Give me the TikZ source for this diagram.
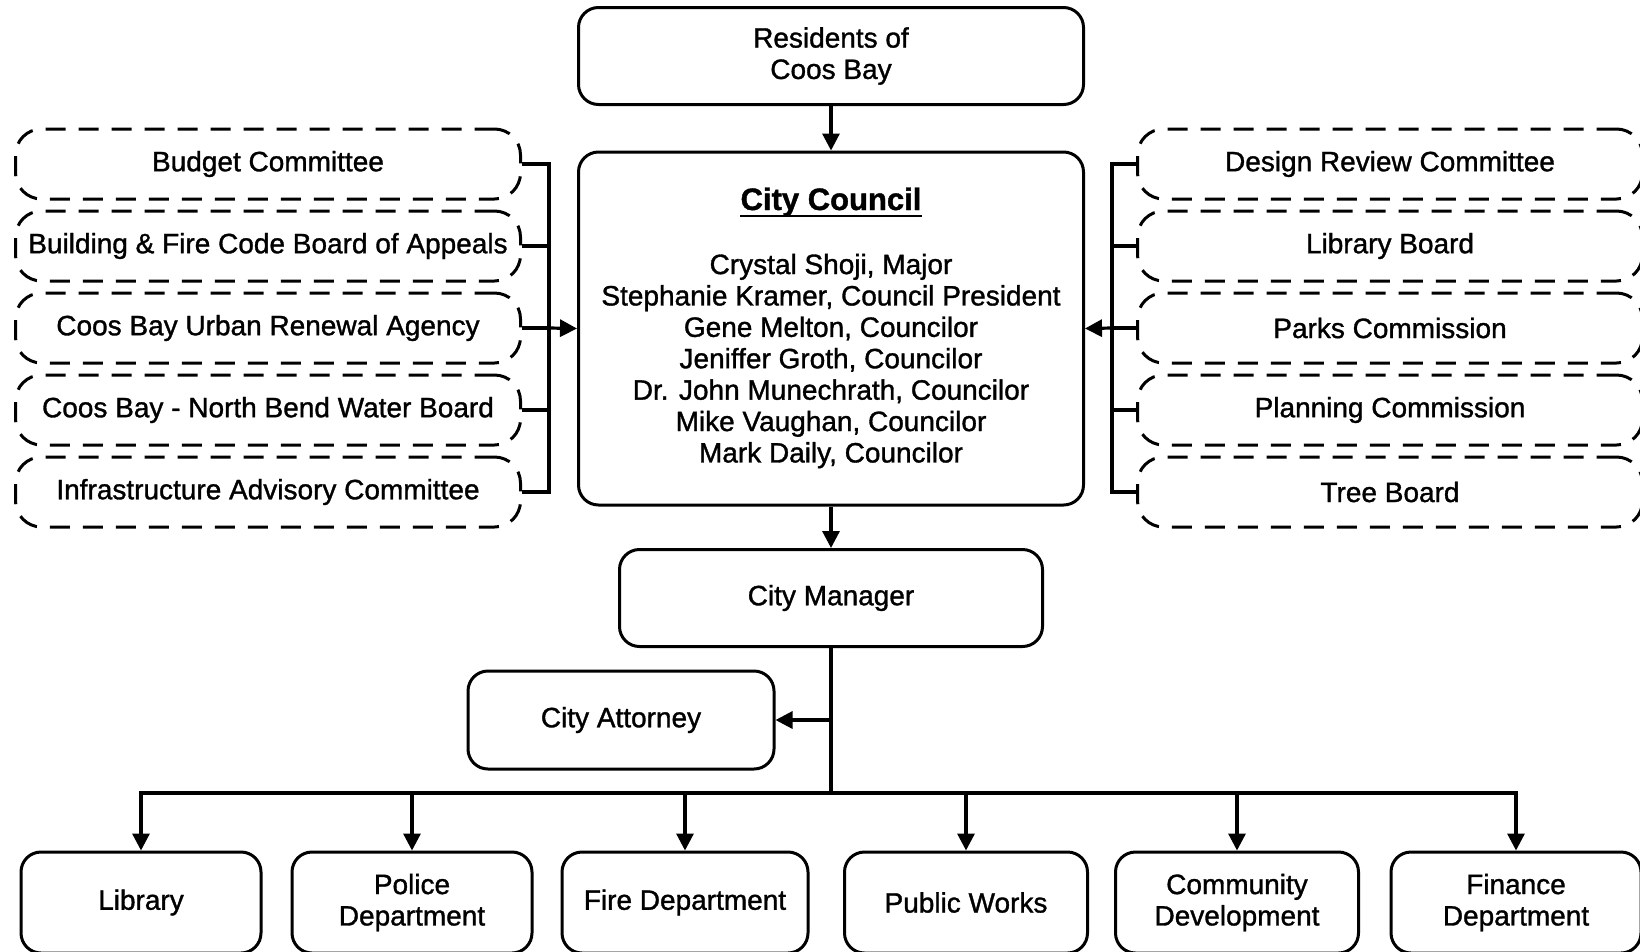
\documentclass[tikz,border=0pt]{standalone}
\usepackage{fontspec}
\setmainfont{Liberation Sans}[FakeBold=1.2]
\usetikzlibrary{arrows.meta}
\begin{document}
\begin{tikzpicture}[x=1pt,y=-1pt,
  txt/.style={font=\fontsize{28}{31.4}\selectfont, align=center},
  sbox/.style={txt, draw, line width=3pt, rounded corners=20pt, inner sep=0pt},
  dbox/.style={txt, draw, line width=3pt, rounded corners=26pt, dash pattern=on 20pt off 13pt, minimum width=505pt, minimum height=70pt, inner sep=0pt},
  bbox/.style={sbox, minimum height=101pt},
  conn/.style={line width=3.2pt},
  arr/.style={conn, -{Triangle[length=17pt,width=17pt]}},
  trunk/.style={line width=4.5pt},
]
\fill[white] (0,0) rectangle (1640,951);
\clip (0,0) rectangle (1640,951);

% top
\node[sbox, minimum width=505pt, minimum height=97pt] (res) at (831,56) {Residents of\\Coos Bay};
\node[sbox, minimum width=505pt, minimum height=353pt] (council) at (831,328.5) {};
\node[txt, font=\bfseries\fontsize{31}{36}\selectfont, inner sep=0pt, anchor=base] (cctitle) at (831,210) {City Council};
\draw[line width=2.6pt] ([yshift=-6pt]cctitle.base west) -- ([yshift=-6pt]cctitle.base east);
\node[txt] (ccnames) at (831,361) {Crystal Shoji, Major\\Stephanie Kramer, Council President\\Gene Melton, Councilor\\Jeniffer Groth, Councilor\\Dr. John Munechrath, Councilor\\Mike Vaughan, Councilor\\Mark Daily, Councilor};
\draw[arr] (res.south) -- (council.north);

% left committees
\node[dbox] (l1) at (268,164) {Budget Committee};
\node[dbox] (l2) at (268,246) {Building \& Fire Code Board of Appeals};
\node[dbox] (l3) at (268,328) {Coos Bay Urban Renewal Agency};
\node[dbox] (l4) at (268,410) {Coos Bay - North Bend Water Board};
\node[dbox] (l5) at (268,492) {Infrastructure Advisory Committee};
\coordinate (lbus) at (549,328);
\foreach \n in {l1,l2,l3,l4,l5} \draw[conn] (\n.east) -| (lbus);
\draw[arr] (lbus) -- (council.west);

% right boards
\node[dbox] (r1) at (1390,164) {Design Review Committee};
\node[dbox] (r2) at (1390,246) {Library Board};
\node[dbox] (r3) at (1390,328) {Parks Commission};
\node[dbox] (r4) at (1390,410) {Planning Commission};
\node[dbox] (r5) at (1390,492) {Tree Board};
\coordinate (rbus) at (1112,328);
\foreach \n in {r1,r2,r3,r4,r5} \draw[conn] (\n.west) -| (rbus);
\draw[arr] (rbus) -- (council.east);

% manager
\node[sbox, minimum width=423pt, minimum height=97pt] (cm) at (831,598) {City Manager};
\draw[arr] (council.south) -- (cm.north);
\node[sbox, minimum width=306pt, minimum height=98pt] (ca) at (621,720) {City Attorney};
\coordinate (catap) at (831,720);
\coordinate (bbus) at (831,793);
\draw[trunk] (cm.south) -- (bbus);
\draw[arr] (catap) -- (ca.east);

% departments
\node[bbox, minimum width=240pt] (lib) at (141,902.5) {Library};
\node[bbox, minimum width=240pt] (pol) at (412,902.5) {Police\\Department};
\node[bbox, minimum width=246pt] (fire) at (685,902.5) {Fire Department};
\node[bbox, minimum width=243pt] (pw) at (966,902.5) {Public Works};
\node[bbox, minimum width=243pt] (cd) at (1237,902.5) {Community\\Development};
\node[bbox, minimum width=250pt] (fin) at (1516,902.5) {Finance\\Department};
\draw[trunk] (fire.north |- bbus) -- (pw.north |- bbus);
\foreach \n in {lib,pol,fire,pw,cd,fin} \draw[arr] (bbus) -| (\n.north);
\end{tikzpicture}
\end{document}
